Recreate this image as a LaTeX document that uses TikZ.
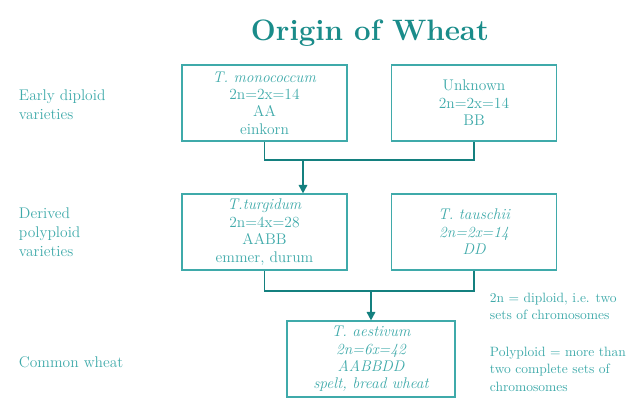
\documentclass[tikz,border=0pt]{standalone}
\definecolor{WheatTeal}{HTML}{3FAAAA}
\definecolor{WheatDark}{HTML}{14807F}
\definecolor{WheatTitle}{HTML}{1A8C8A}
\usepackage{tikz}
\usetikzlibrary{arrows.meta, positioning, calc}
\tikzset{
    % Boxes for the species
    species/.style={
        rectangle,
        draw=WheatTeal,
        fill=white,
        line width=0.8pt,
        minimum width=4.125cm,
        minimum height=1.9cm,
        align=center,
        text=WheatTeal,
        font=\fontsize{11}{12.4}\selectfont
    },
    species wide/.style={
        species,
        minimum width=4.2cm
    },
    row label/.style={
        anchor=west,
        align=left,
        text=WheatTeal,
        font=\fontsize{11}{13.5}\selectfont
    },
    note/.style={
        anchor=north west,
        align=left,
        text=WheatTeal,
        font=\fontsize{9.6}{12.4}\selectfont
    },
    join line/.style={
        line width=1.3pt,
        WheatDark
    },
    arrow style/.style={
        -{Triangle[length=6pt,width=6pt]},
        line width=1.3pt,
        WheatDark
    }
}
\begin{document}
\begin{tikzpicture}[x=0.025cm, y=-0.025cm]
    \useasboundingbox (0,0) rectangle (631,400);

    % Title
    \node[font=\fontsize{21}{21}\selectfont\bfseries, text=WheatTitle] (title) at (370, 33) {Origin of Wheat};

    % Row labels
    \node[row label] (lbl-early) at (14, 105) {Early diploid\\varieties};
    \node[row label] (lbl-derived) at (14, 232) {Derived\\polyploid\\varieties};
    \node[row label] (lbl-common) at (14, 362) {Common wheat};

    % Early diploid varieties
    \node[species] (mono) at (264.5, 103) {\textit{T. monococcum}\\2n=2x=14\\AA\\einkorn};
    \node[species] (unknown) at (474, 103) {Unknown\\2n=2x=14\\BB};

    % Derived polyploid varieties
    \node[species] (turgidum) at (264.5, 232) {\textit{T.turgidum}\\2n=4x=28\\AABB\\emmer, durum};
    \node[species] (tauschii) at (474, 232) {\itshape T. tauschii\\\itshape 2n=2x=14\\\itshape DD};

    % Common wheat
    \node[species wide] (aestivum) at (371, 359) {\itshape T. aestivum\\\itshape 2n=6x=42\\\itshape AABBDD\\\itshape spelt, bread wheat};

    % Notes
    \node[note] (note-diploid) at (485, 288) {2n = diploid, i.e. two\\sets of chromosomes};
    \node[note] (note-poly) at (485, 342) {Polyploid = more than\\two complete sets of\\chromosomes};

    % Connectors
    \coordinate (join-a) at (303, 160);
    \coordinate (join-b) at (371, 291);
    \draw[join line] (mono.south) |- (join-a) -| (unknown.south);
    \draw[arrow style] (join-a) -- (join-a |- turgidum.north);
    \draw[join line] (turgidum.south) |- (join-b) -| (tauschii.south);
    \draw[arrow style] (join-b) -- (aestivum.north);
\end{tikzpicture}
\end{document}
